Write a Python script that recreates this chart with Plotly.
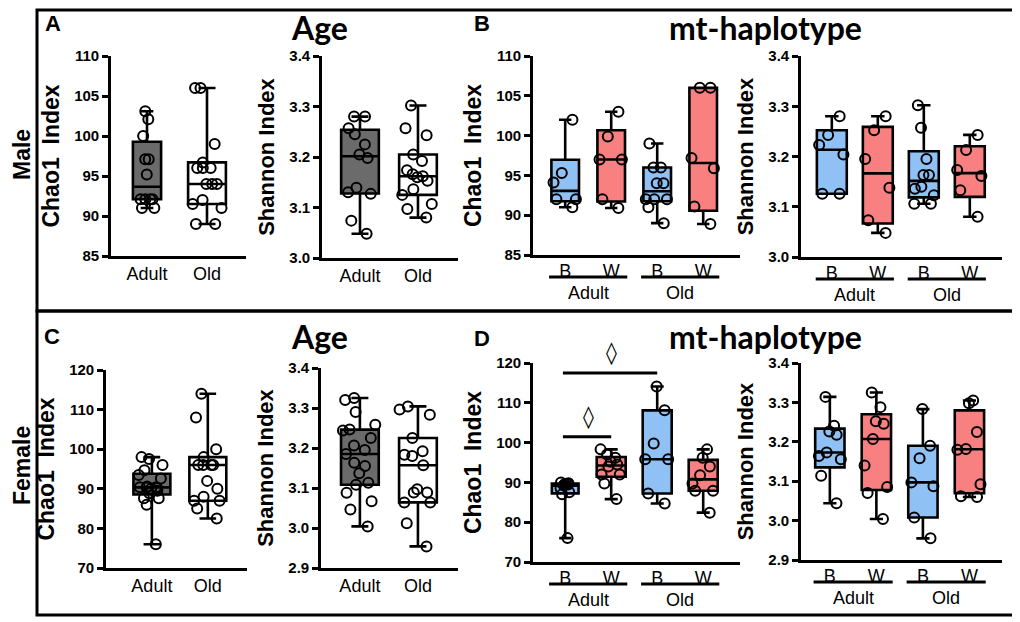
import numpy as np
import plotly.graph_objects as go

# ---- values ----
age_groups = ["Adult", "Old"]
hap_labels = ["B", "W", "B", "W"]
hap_ages = ["Adult", "Old"]

# Male, by age
male_chao_adult = [103.1, 102.1, 100.0, 97.1, 97.1, 95.2, 92.1, 92.1, 92.1, 92.1, 91.0, 91.0]
male_chao_old = [106.0, 106.0, 99.0, 96.7, 96.0, 96.0, 96.0, 94.0, 94.0, 94.0, 92.0, 91.5, 91.0, 89.0, 89.0]
male_shannon_adult = [3.280, 3.280, 3.257, 3.245, 3.225, 3.205, 3.198, 3.139, 3.130, 3.127, 3.074, 3.048]
male_shannon_old = [3.302, 3.257, 3.243, 3.205, 3.192, 3.174, 3.166, 3.162, 3.160, 3.153, 3.136, 3.125, 3.107, 3.097, 3.080]

# Male, by mt-haplotype
male_chao_adult_b = [102.0, 95.3, 94.1, 92.0, 92.0, 91.0]
male_chao_adult_w = [103.0, 99.9, 97.0, 97.0, 92.0, 90.9]
male_chao_old_b = [99.0, 96.0, 96.0, 94.0, 94.0, 92.0, 92.0, 92.0, 91.0, 89.0]
male_chao_old_w = [106.0, 106.0, 97.2, 95.9, 91.1, 88.9]
male_shannon_adult_b = [3.280, 3.243, 3.223, 3.204, 3.126, 3.126]
male_shannon_adult_w = [3.280, 3.252, 3.195, 3.138, 3.073, 3.048]
male_shannon_old_b = [3.302, 3.257, 3.195, 3.163, 3.163, 3.140, 3.136, 3.123, 3.106, 3.106]
male_shannon_old_w = [3.243, 3.213, 3.173, 3.161, 3.133, 3.080]

# Female, by age
female_chao_adult = [98.0, 97.5, 96.0, 94.7, 93.5, 92.6, 90.6, 90.4, 90.4, 90.3, 90.2, 90.0,
                     89.5, 88.9, 87.6, 87.6, 86.0, 76.0]
female_chao_old = [114.0, 108.0, 100.0, 98.0, 96.0, 96.0, 96.0, 96.0, 92.0, 90.0, 88.0, 87.0, 87.0, 85.0, 82.5]
female_shannon_adult = [3.325, 3.320, 3.290, 3.258, 3.246, 3.244, 3.225, 3.206, 3.195, 3.185, 3.163,
                        3.155, 3.137, 3.113, 3.108, 3.088, 3.067, 3.046, 3.004]
female_shannon_old = [3.304, 3.296, 3.283, 3.225, 3.192, 3.183, 3.180, 3.157, 3.097, 3.089, 3.089,
                      3.064, 3.064, 3.012, 2.954]

# Female, by mt-haplotype
female_chao_adult_b = [90.0, 89.8, 89.6, 89.5, 89.2, 88.5, 87.5, 87.0, 76.0]
female_chao_adult_w = [98.3, 97.0, 96.2, 95.2, 94.5, 94.0, 92.0, 92.0, 89.7, 85.8]
female_chao_old_b = [114.1, 108.1, 99.8, 95.8, 95.8, 87.2, 84.7]
female_chao_old_w = [98.3, 96.2, 94.0, 91.8, 89.7, 87.9, 87.9, 82.4]
female_shannon_adult_b = [3.314, 3.241, 3.226, 3.218, 3.173, 3.164, 3.156, 3.114, 3.044]
female_shannon_adult_w = [3.325, 3.288, 3.252, 3.246, 3.207, 3.140, 3.085, 3.070, 3.004]
female_shannon_old_b = [3.283, 3.190, 3.158, 3.097, 3.087, 3.008, 2.955]
female_shannon_old_w = [3.305, 3.298, 3.225, 3.182, 3.180, 3.092, 3.062, 3.060]

# significance marks in panel D (Chao1): (from group, to group, bar height, marker height)
sig_bars = [(1, 2, 101.5, 106.5), (1, 3, 117.5, 122.5)]

# the page body has an 8px margin, so the figure is a bit smaller and positions are shifted
OFF = 8
W, H = 1020 - OFF, 622 - OFF
GREY, BLUE, RED = "#6b6b6b", "#8fc1f4", "#f98080"
FONT = "Arial, Liberation Sans, sans-serif"


def fx(x):
    return (x - OFF) / W


def fy(y):
    return 1 - (y - OFF) / H


def box_stats(vals):
    # GraphPad-style quartiles ((n+1)p), whiskers min to max
    q1, med, q3 = np.percentile(vals, [25, 50, 75], method="weibull")
    return q1, med, q3, min(vals), max(vals)


panels = [
    # Male
    dict(groups=[male_chao_adult, male_chao_old], colors=[GREY, "white"], widths=[0.47, 0.63],
         pix=(111, 246, 56, 256), xr=[0.4, 2.65], yr=[85, 110], ticks=[85, 90, 95, 100, 105, 110],
         title="Chao1  Index", fmt="d", labels=age_groups),
    dict(groups=[male_shannon_adult, male_shannon_old], colors=[GREY, "white"], widths=[0.65, 0.65],
         pix=(322, 458, 56, 258), xr=[0.345, 2.69], yr=[3.0, 3.4], ticks=[3.0, 3.1, 3.2, 3.3, 3.4],
         title="Shannon Index", fmt=".1f", labels=age_groups),
    dict(groups=[male_chao_adult_b, male_chao_adult_w, male_chao_old_b, male_chao_old_w],
         colors=[BLUE, RED, BLUE, RED], widths=[0.6] * 4,
         pix=(533, 740, 56, 255), xr=[0.3, 4.8], yr=[85, 110], ticks=[85, 90, 95, 100, 105, 110],
         title="Chao1  Index", fmt="d", labels=hap_labels),
    dict(groups=[male_shannon_adult_b, male_shannon_adult_w, male_shannon_old_b, male_shannon_old_w],
         colors=[BLUE, RED, BLUE, RED], widths=[0.65] * 4,
         pix=(801, 1002, 56, 257), xr=[0.33, 4.7], yr=[3.0, 3.4], ticks=[3.0, 3.1, 3.2, 3.3, 3.4],
         title="Shannon Index", fmt=".1f", labels=hap_labels),
    # Female
    dict(groups=[female_chao_adult, female_chao_old], colors=[GREY, "white"], widths=[0.66, 0.66],
         pix=(106, 247, 370, 568), xr=[0.18, 2.7], yr=[70, 120], ticks=[70, 80, 90, 100, 110, 120],
         title="Chao1  Index", fmt="d", labels=age_groups),
    dict(groups=[female_shannon_adult, female_shannon_old], colors=[GREY, "white"], widths=[0.65, 0.65],
         pix=(321, 458, 368, 568), xr=[0.33, 2.69], yr=[2.9, 3.4], ticks=[2.9, 3.0, 3.1, 3.2, 3.3, 3.4],
         title="Shannon Index", fmt=".1f", labels=age_groups),
    dict(groups=[female_chao_adult_b, female_chao_adult_w, female_chao_old_b, female_chao_old_w],
         colors=[BLUE, RED, BLUE, RED], widths=[0.58, 0.63, 0.63, 0.63],
         pix=(533, 740, 363, 562), xr=[0.3, 4.8], yr=[70, 120], ticks=[70, 80, 90, 100, 110, 120],
         title="Chao1  Index", fmt="d", labels=hap_labels),
    dict(groups=[female_shannon_adult_b, female_shannon_adult_w, female_shannon_old_b, female_shannon_old_w],
         colors=[BLUE, RED, BLUE, RED], widths=[0.63] * 4,
         pix=(801, 1002, 363, 560), xr=[0.38, 4.7], yr=[2.9, 3.4], ticks=[2.9, 3.0, 3.1, 3.2, 3.3, 3.4],
         title="Shannon Index", fmt=".1f", labels=hap_labels),
]

fig = go.Figure()
layout_axes = {}
shapes = []
annotations = []

for i, p in enumerate(panels, start=1):
    sfx = "" if i == 1 else str(i)
    xa, ya = "x" + sfx, "y" + sfx
    for j, vals in enumerate(p["groups"]):
        pos = j + 1
        q1, med, q3, lo, hi = box_stats(vals)
        fig.add_trace(go.Box(
            x=[pos], q1=[q1], median=[med], q3=[q3], lowerfence=[lo], upperfence=[hi],
            boxpoints=False, width=p["widths"][j], whiskerwidth=0.45,
            fillcolor=p["colors"][j], line=dict(color="black", width=2.6),
            xaxis=xa, yaxis=ya, showlegend=False, hoverinfo="skip",
        ))
        fig.add_trace(go.Box(
            x=[pos] * len(vals), y=vals, boxpoints="all", jitter=1.0, pointpos=0,
            width=p["widths"][j], fillcolor="rgba(0,0,0,0)",
            line=dict(color="rgba(0,0,0,0)", width=0),
            marker=dict(size=10, color="rgba(0,0,0,0)", line=dict(color="black", width=2)),
            xaxis=xa, yaxis=ya, showlegend=False,
        ))

    x0, x1, ytop, ybot = p["pix"]
    layout_axes["xaxis" + sfx] = dict(
        domain=[fx(x0), fx(x1)], range=p["xr"], anchor=ya, showline=True, linecolor="black",
        linewidth=2.6, ticks="", ticklen=0, tickvals=list(range(1, len(p["labels"]) + 1)),
        ticktext=p["labels"], tickfont=dict(family=FONT, size=18, color="black"),
        ticklabelstandoff=-2 if len(p["labels"]) == 4 else 0,
        showgrid=False, zeroline=False, automargin=False, fixedrange=True,
    )
    layout_axes["yaxis" + sfx] = dict(
        domain=[fy(ybot), fy(ytop)], range=p["yr"], anchor=xa, showline=True, linecolor="black",
        linewidth=2.6, ticks="outside", ticklen=6, tickwidth=2.6, tickcolor="black",
        tickvals=p["ticks"], tickformat=p["fmt"],
        tickfont=dict(family=FONT, size=15, color="black", weight="bold"),
        title=dict(text=p["title"], standoff=9,
                   font=dict(family=FONT, size=23 if "Chao" in p["title"] else 22,
                             color="black", weight="bold")),
        showgrid=False, zeroline=False, automargin=False, fixedrange=True,
    )

    # group underlines and Adult / Old labels for the haplotype panels
    if len(p["groups"]) == 4:
        line_y = ybot + 22
        label_y = ybot + 38
        for k, age in enumerate(hap_ages):
            c0 = 2 * k + 1
            shapes.append(dict(type="line", xref=xa, yref="paper", x0=c0 - 0.35, x1=c0 + 1.35,
                               y0=fy(line_y), y1=fy(line_y), line=dict(color="black", width=3)))
            annotations.append(dict(text=age, xref=xa, yref="paper", x=c0 + 0.5, y=fy(label_y),
                                    showarrow=False, xanchor="center", yanchor="middle",
                                    font=dict(family=FONT, size=18, color="black")))

# significance bars, panel D Chao1 (marker placed in paper space so it can sit above the axis top)
d = panels[6]
d_bot, d_top = fy(d["pix"][3]), fy(d["pix"][2])
for g0, g1, bar_y, mark_y in sig_bars:
    shapes.append(dict(type="line", xref="x7", yref="y7", x0=g0 - 0.05, x1=g1, y0=bar_y, y1=bar_y,
                       line=dict(color="black", width=3)))
    frac = (mark_y - d["yr"][0]) / (d["yr"][1] - d["yr"][0])
    annotations.append(dict(text="◊", xref="x7", yref="paper", x=(g0 + g1) / 2,
                            y=d_bot + frac * (d_top - d_bot), showarrow=False,
                            xanchor="center", yanchor="middle",
                            font=dict(family="DejaVu Sans", size=22, color="black")))

# row frames (top edge kept just inside the drawable area)
for top, bot in [(10, 311), (311, 615)]:
    shapes.append(dict(type="rect", xref="paper", yref="paper", x0=fx(37), x1=fx(1016),
                       y0=fy(bot), y1=fy(top), line=dict(color="black", width=3)))

# row labels
for text, yc in [("Male", 155), ("Female", 466)]:
    annotations.append(dict(text=text, xref="paper", yref="paper", x=fx(22), y=fy(yc), textangle=-90,
                            showarrow=False, xanchor="center", yanchor="middle",
                            font=dict(family=FONT, size=23, color="black", weight="bold")))

# panel letters
for text, xc, yc in [("A", 53, 23), ("B", 482, 23), ("C", 52, 336), ("D", 482, 338)]:
    annotations.append(dict(text=text, xref="paper", yref="paper", x=fx(xc), y=fy(yc), showarrow=False,
                            xanchor="center", yanchor="middle",
                            font=dict(family=FONT, size=22, color="black", weight="bold")))

# section titles
for text, xc, yc in [("Age", 319, 27), ("mt-haplotype", 765, 27), ("Age", 319, 336), ("mt-haplotype", 765, 336)]:
    annotations.append(dict(text=text, xref="paper", yref="paper", x=fx(xc), y=fy(yc), showarrow=False,
                            xanchor="center", yanchor="middle",
                            font=dict(family="Lato", size=32, color="black", weight="bold")))

fig.update_layout(
    width=W, height=H, margin=dict(l=0, r=0, t=0, b=0),
    template="none", paper_bgcolor="white", plot_bgcolor="white",
    boxmode="overlay", showlegend=False,
    shapes=shapes, annotations=annotations,
    **layout_axes,
)

fig.write_html("out.html")
